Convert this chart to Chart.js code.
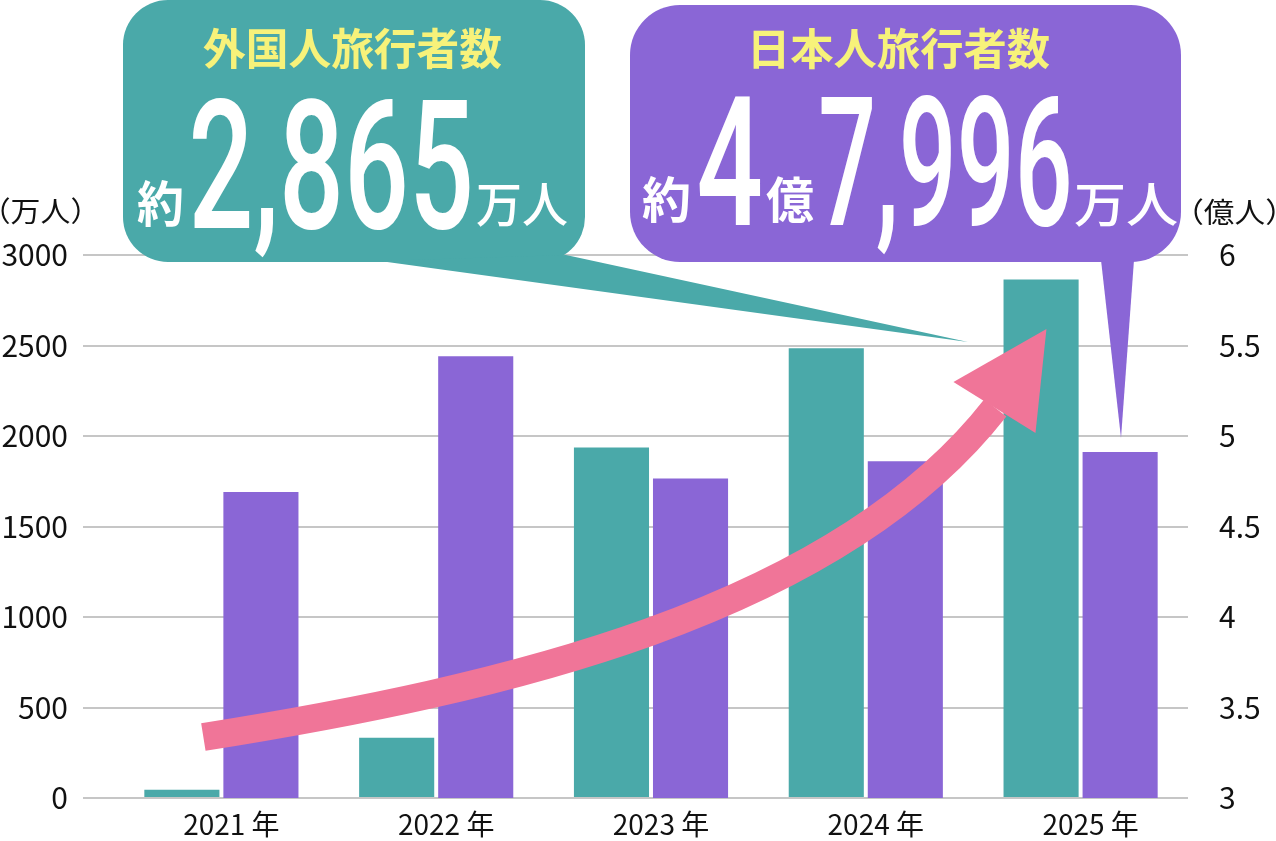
<!DOCTYPE html>
<html lang="ja">
<head>
<meta charset="utf-8">
<title>旅行者数</title>
<script src="https://cdn.jsdelivr.net/npm/chart.js@4.4.1/dist/chart.umd.min.js"></script>
<style>
  html, body { margin: 0; padding: 0; background: #fff; }
  #wrap { width: 1276px; height: 841px; position: relative; }
</style>
</head>
<body>
<div id="wrap"><canvas id="travelChart"></canvas></div>
<script>
// data
const years = ["2021 年", "2022 年", "2023 年", "2024 年", "2025 年"];
const foreignTravelers = [46, 333, 1936, 2485, 2865]; // 万人 (left axis)
const japaneseTravelers = [4.69, 5.44, 4.765, 4.861, 4.912]; // 億人 (right axis)
const leftTicks = { min: 0, max: 3000, step: 500 };
const rightTicks = { min: 3, max: 6, step: 0.5 };

const TEAL = "#4aa9a9";
const PURPLE = "#8a66d6";
const PINK = "#f07598";
const YELLOW = "#f7f27a";
const JP = "'Noto Sans CJK JP', 'Noto Sans', sans-serif";

// draw text so its ink fits between x0 and x1
function fitText(ctx, text, font, color, x0, x1, bottom, byInk) {
  ctx.font = font;
  ctx.fillStyle = color;
  ctx.textAlign = "left";
  ctx.textBaseline = "alphabetic";
  const m = ctx.measureText(text);
  const w = m.actualBoundingBoxLeft + m.actualBoundingBoxRight;
  const sx = (x1 - x0) / w;
  const base = byInk ? bottom - m.actualBoundingBoxDescent : bottom;
  ctx.save();
  ctx.translate(x0 + m.actualBoundingBoxLeft * sx, base);
  ctx.scale(sx, 1);
  ctx.fillText(text, 0, 0);
  ctx.restore();
}

function bubble(ctx, x, y, w, h, r, tail, color) {
  ctx.fillStyle = color;
  ctx.beginPath();
  ctx.roundRect(x, y, w, h, r);
  ctx.fill();
  ctx.beginPath();
  ctx.moveTo(tail[0][0], tail[0][1]);
  for (let i = 1; i < tail.length; i++) ctx.lineTo(tail[i][0], tail[i][1]);
  ctx.closePath();
  ctx.fill();
}

const decorPlugin = {
  id: "decor",
  afterDraw(chart) {
    const ctx = chart.ctx;
    const xs = chart.scales.x;
    const ys = chart.scales.y;
    const step = xs.getPixelForValue(1) - xs.getPixelForValue(0);
    const at = (i, v) => [xs.getPixelForValue(0) + i * step, ys.getPixelForValue(v)];

    // growth arrow
    const p0 = at(-0.084, 337), p1 = at(1.294, 597), p2 = at(2.858, 1022), p3 = at(3.603, 2155);
    ctx.save();
    ctx.strokeStyle = PINK;
    ctx.lineWidth = 28;
    ctx.lineCap = "butt";
    ctx.beginPath();
    ctx.moveTo(p0[0], p0[1]);
    ctx.bezierCurveTo(p1[0], p1[1], p2[0], p2[1], p3[0], p3[1]);
    ctx.stroke();
    const tip = at(3.841, 2591), bl = at(3.408, 2298), br = at(3.79, 2017);
    ctx.fillStyle = PINK;
    ctx.beginPath();
    ctx.moveTo(tip[0], tip[1]);
    ctx.lineTo(bl[0], bl[1]);
    ctx.lineTo(br[0], br[1]);
    ctx.closePath();
    ctx.fill();
    ctx.restore();

    // speech bubbles
    bubble(ctx, 123, 0, 462, 262, 45, [[380, 261], [566, 255], [968, 342]], TEAL);
    bubble(ctx, 630, 5, 551, 257, 50, [[1101, 260], [1134, 260], [1121, 438]], PURPLE);

    fitText(ctx, "外国人旅行者数", "bold 43px " + JP, YELLOW, 203, 502, 70, true);
    fitText(ctx, "約", "bold 49px " + JP, "#fff", 137, 182, 227, true);
    fitText(ctx, "2,865", "500 180px Roboto", "#fff", 193, 470, 228, false);
    fitText(ctx, "万人", "500 48px " + JP, "#fff", 477, 567, 227, true);

    fitText(ctx, "日本人旅行者数", "bold 43px " + JP, YELLOW, 753, 1050, 70, true);
    fitText(ctx, "約", "bold 49px " + JP, "#fff", 642, 689, 223, true);
    fitText(ctx, "4", "500 180px Roboto", "#fff", 699, 760, 225, false);
    fitText(ctx, "億", "bold 49px " + JP, "#fff", 766, 814, 223, true);
    fitText(ctx, "7,996", "500 180px Roboto", "#fff", 821, 1069, 225, false);
    fitText(ctx, "万人", "500 48px " + JP, "#fff", 1075, 1177, 227, true);

    // axis units
    fitText(ctx, "（万人）", "28px " + JP, "#111", 1, 80, 225, true);
    fitText(ctx, "（億人）", "28px " + JP, "#111", 1194, 1275, 225, true);
  },
};

new Chart(document.getElementById("travelChart"), {
  type: "bar",
  data: {
    labels: years,
    datasets: [
      {
        label: "外国人旅行者数",
        data: foreignTravelers,
        yAxisID: "y",
        backgroundColor: TEAL,
        categoryPercentage: 0.736,
        barPercentage: 0.95,
      },
      {
        label: "日本人旅行者数",
        data: japaneseTravelers,
        yAxisID: "y2",
        backgroundColor: PURPLE,
        categoryPercentage: 0.736,
        barPercentage: 0.95,
      },
    ],
  },
  options: {
    responsive: true,
    maintainAspectRatio: false,
    animation: false,
    layout: { padding: { top: 255, left: 0, right: 0, bottom: 0 } },
    plugins: {
      legend: { display: false },
      tooltip: { enabled: false },
    },
    scales: {
      x: {
        grid: { display: false, drawTicks: false },
        border: { display: false },
        ticks: {
          color: "#111",
          font: { family: JP, size: 28 },
          padding: 10,
          labelOffset: 10,
        },
        afterFit: (s) => { s.height = 43; },
      },
      y: {
        position: "left",
        min: leftTicks.min,
        max: leftTicks.max,
        grid: { color: "#c6c6c6", lineWidth: 2, tickLength: 31 },
        border: { display: false },
        ticks: {
          stepSize: leftTicks.step,
          color: "#111",
          font: { family: JP, size: 30 },
          padding: 15,
          callback: (v) => String(v),
        },
        afterFit: (s) => { s.width = 114; },
      },
      y2: {
        position: "right",
        min: rightTicks.min,
        max: rightTicks.max,
        grid: { display: false, drawTicks: true, tickLength: 27 },
        border: { display: false },
        ticks: {
          stepSize: rightTicks.step,
          color: "#111",
          font: { family: JP, size: 30 },
          padding: 4,
          callback: (v) => String(v),
        },
        afterFit: (s) => { s.width = 88; },
      },
    },
  },
  plugins: [decorPlugin],
});
</script>
</body>
</html>
